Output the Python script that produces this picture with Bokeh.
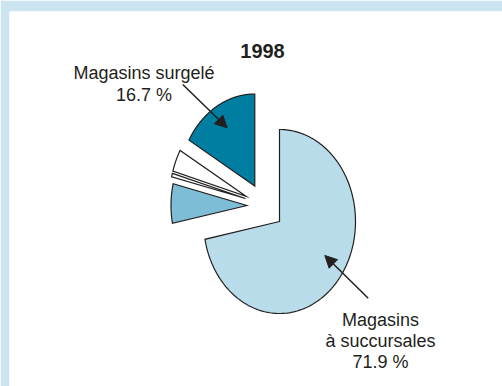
import numpy as np
from bokeh.plotting import figure
from bokeh.models import Range1d, ColumnDataSource, Arrow, NormalHead
from bokeh.core.properties import value
from bokeh.embed import file_html
from bokeh.resources import INLINE

# ---- data ----
title_text = "1998"
categories = ["Magasins à succursales", "Magasins surgelé", "Autres 1", "Autres 2", "Autres 3"]
shares = [71.9, 16.7, 3.9, 0.6, 6.9]
label_name_lines = {
    "Magasins surgelé": ["Magasins surgelé"],
    "Magasins à succursales": ["Magasins", "à succursales"],
}

# ---- styles / layout ----
colors = ["#b9dcea", "#007ea1", "#ffffff", "#ffffff", "#7dbdd5"]
outline = "#231f20"
text_color = "#231f20"
border_col = "#cce4f0"
W, H = 502, 386
cx, cy, rx, ry = 279.0, 221.0, 76.0, 92.0
# per-slice displacement of the apex (pixels)
offsets = [(0, 0), (-24.7, -35.5), (-33.5, -25.2), (-34.0, -23.0), (-32.5, -16.0)]

p = figure(width=W, height=H, output_backend="svg", toolbar_location=None,
           x_range=Range1d(9, W), y_range=Range1d(H, 11),
           x_axis_type=None, y_axis_type=None, tools="")
p.min_border_left = 9
p.min_border_top = 11
p.min_border_right = 0
p.min_border_bottom = 0
p.outline_line_color = None
p.background_fill_color = "white"
p.border_fill_color = border_col
p.xgrid.visible = False
p.ygrid.visible = False

# slice angles: main slice clockwise from 12 o'clock, others counter-clockwise
angles = []
main_span = shares[0] / 100 * 2 * np.pi
angles.append((np.pi / 2 - main_span, np.pi / 2))
a = np.pi / 2
for s in shares[1:]:
    span = s / 100 * 2 * np.pi
    angles.append((a, a + span))
    a += span

xs, ys = [], []
for (a0, a1), (ox, oy) in zip(angles, offsets):
    t = np.linspace(a0, a1, 200)
    ax, ay = cx + ox, cy + oy
    xs.append([ax] + list(ax + rx * np.cos(t)))
    ys.append([ay] + list(ay - ry * np.sin(t)))

src = ColumnDataSource(dict(xs=xs, ys=ys, color=colors, cat=categories))
p.patches("xs", "ys", source=src, fill_color="color", line_color=outline,
          line_width=1.2, line_join="miter")

font = value("Liberation Sans")
p.text(x=[262], y=[50], text=[title_text], text_font=font, text_font_size="20px",
       text_font_style="bold", text_align="center", text_baseline="alphabetic",
       text_color=text_color)

def label(cat, x, y0, lh=21.3):
    i = categories.index(cat)
    lines = label_name_lines[cat] + [f"{shares[i]:.1f} %"]
    p.text(x=[x] * len(lines), y=[y0 + k * lh for k in range(len(lines))], text=lines,
           text_font=font, text_font_size="18px", text_align="center",
           text_baseline="alphabetic", text_color=text_color)

label("Magasins surgelé", 143.5, 72.7, lh=21.6)
label("Magasins à succursales", 380, 319.3, lh=21.1)

for (x0, y0, x1, y1) in [(182.3, 84, 226.7, 127.3), (367.7, 297.7, 324.3, 255)]:
    p.add_layout(Arrow(end=NormalHead(size=12, fill_color=outline, line_color=outline, line_width=1),
                       x_start=x0, y_start=y0, x_end=x1, y_end=y1,
                       line_color=outline, line_width=1.5))

open("out.html", "w").write(file_html(p, INLINE))
